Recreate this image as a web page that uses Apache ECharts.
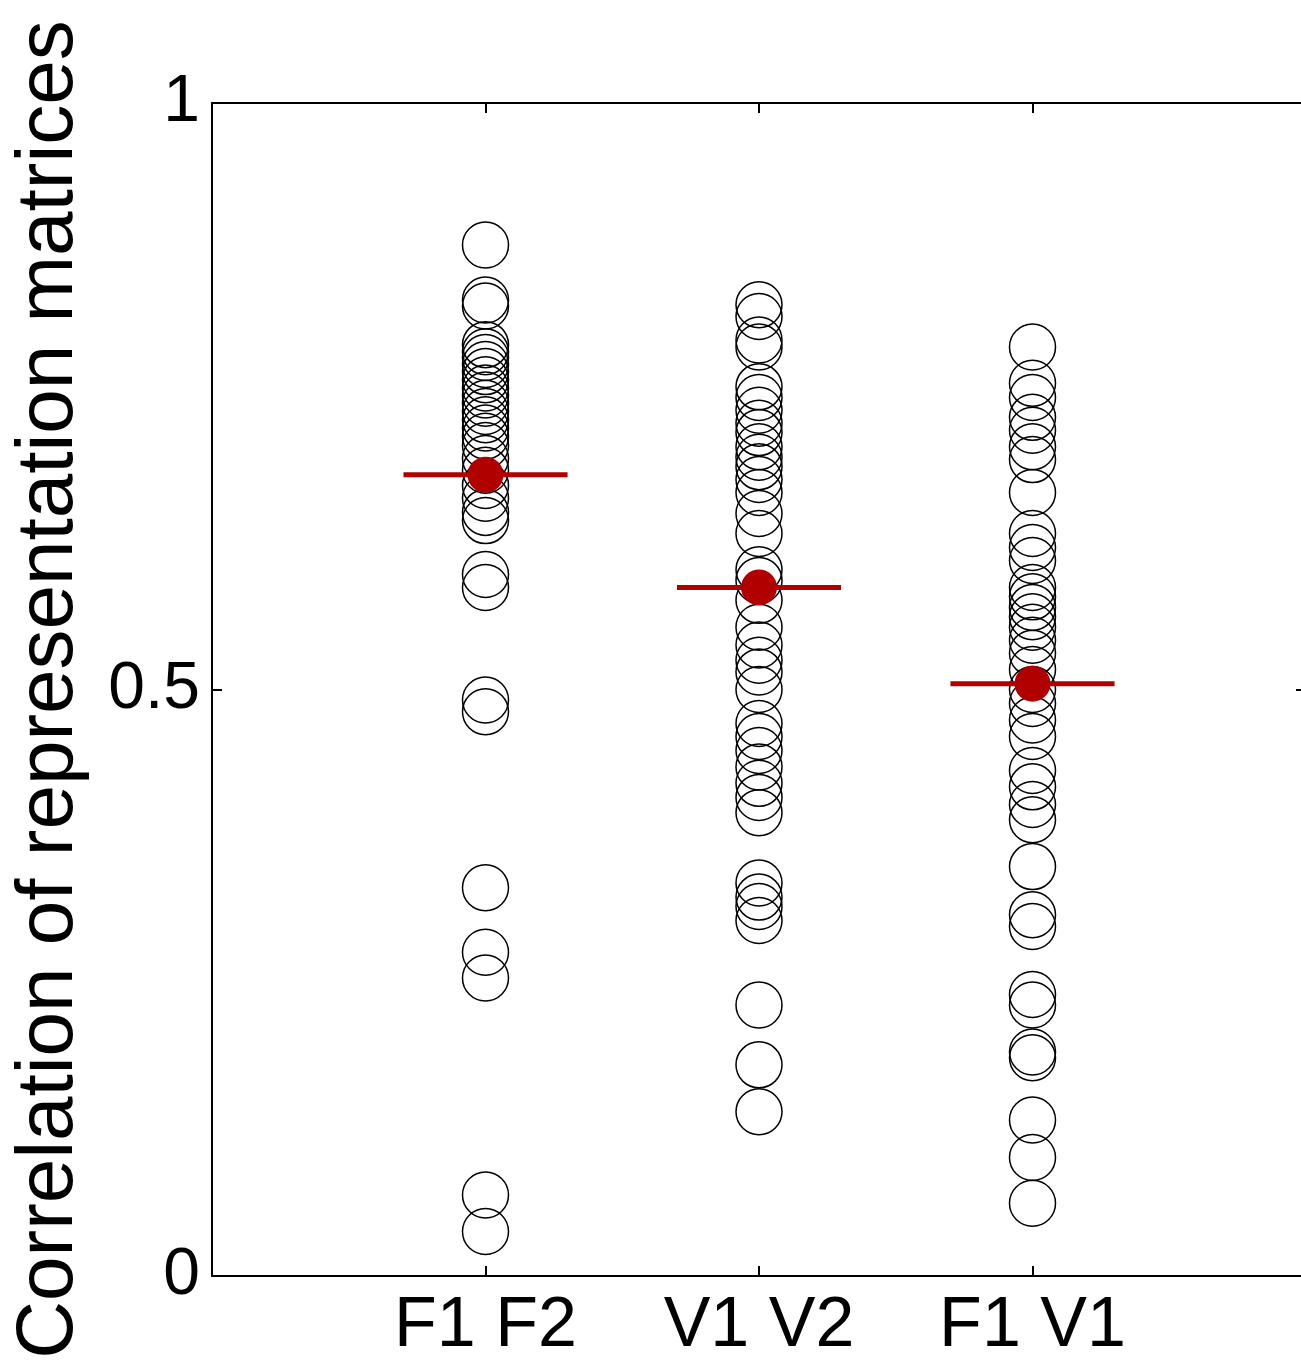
<!DOCTYPE html>
<html>
<head>
<meta charset="utf-8">
<script src="https://cdn.jsdelivr.net/npm/echarts@6/dist/echarts.min.js"></script>
<style>
html,body{margin:0;padding:0;background:#fff;}
#chart{width:1301px;height:1369px;}
</style>
</head>
<body>
<div id="chart"></div>
<script>
const categories = ['F1 F2', 'V1 V2', 'F1 V1'];
const f1f2Values = [0.879, 0.832, 0.827, 0.794, 0.788, 0.783, 0.777, 0.771, 0.764, 0.757, 0.751, 0.744, 0.737, 0.730, 0.723, 0.716, 0.708, 0.697, 0.687, 0.674, 0.663, 0.651, 0.644, 0.598, 0.587, 0.491, 0.481, 0.331, 0.276, 0.254, 0.069, 0.038];
const v1v2Values = [0.828, 0.818, 0.798, 0.792, 0.758, 0.749, 0.738, 0.727, 0.719, 0.707, 0.698, 0.690, 0.679, 0.668, 0.650, 0.633, 0.602, 0.593, 0.576, 0.553, 0.538, 0.525, 0.515, 0.500, 0.471, 0.460, 0.448, 0.434, 0.420, 0.408, 0.395, 0.335, 0.323, 0.315, 0.303, 0.231, 0.180, 0.140];
const f1v1Values = [0.792, 0.761, 0.749, 0.732, 0.721, 0.707, 0.696, 0.668, 0.633, 0.621, 0.610, 0.587, 0.579, 0.570, 0.562, 0.553, 0.542, 0.531, 0.517, 0.500, 0.488, 0.474, 0.460, 0.431, 0.417, 0.402, 0.389, 0.349, 0.308, 0.298, 0.240, 0.231, 0.191, 0.186, 0.133, 0.101, 0.062];
const meanValues = [0.683, 0.587, 0.505];
const yTicks = [0, 0.5, 1];

const groups = [f1f2Values, v1v2Values, f1v1Values];
const HALF = 0.3;
const RED = '#b00000';
const FONT = '"Liberation Sans", Arial, Helvetica, sans-serif';

const series = [];
groups.forEach((vals, i) => {
  series.push({
    type: 'scatter',
    symbol: 'circle',
    symbolSize: 46,
    itemStyle: { color: 'rgba(0,0,0,0)', borderColor: '#000', borderWidth: 1.5, opacity: 1 },
    data: vals.map(v => [i + 1, v]),
    z: 2
  });
});
meanValues.forEach((m, i) => {
  series.push({
    type: 'line',
    symbol: 'none',
    lineStyle: { color: RED, width: 5, opacity: 1 },
    data: [[i + 1 - HALF, m], [i + 1 + HALF, m]],
    z: 3
  });
});
series.push({
  type: 'scatter',
  symbol: 'circle',
  symbolSize: 36,
  itemStyle: { color: RED, opacity: 1 },
  data: meanValues.map((m, i) => [i + 1, m]),
  z: 4
});

const xLabel = v => (v >= 1 && v <= categories.length && Number.isInteger(v)) ? categories[v - 1] : '';
const tick = { show: true, inside: true, length: 10, lineStyle: { color: '#000', width: 2 } };
const line = { show: true, onZero: false, lineStyle: { color: '#000', width: 2 } };
const chart = echarts.init(document.getElementById('chart'));
chart.setOption({
  animation: false,
  backgroundColor: '#fff',
  grid: { left: 212, top: 103, width: 1094, height: 1173, containLabel: false, outerBoundsMode: 'none' },
  xAxis: [{
    type: 'value', min: 0, max: 4, interval: 1, position: 'bottom',
    axisLine: line, axisTick: tick,
    axisLabel: { formatter: xLabel, color: '#000', fontSize: 70, fontFamily: FONT, margin: 16 },
    splitLine: { show: false }
  }, {
    type: 'value', min: 0, max: 4, interval: 1, position: 'top',
    axisLine: line, axisTick: tick,
    axisLabel: { show: false },
    splitLine: { show: false }
  }],
  yAxis: [{
    type: 'value', min: 0, max: 1, interval: 0.5, position: 'left',
    name: 'Correlation of representation matrices',
    nameLocation: 'middle', nameRotate: 90, nameGap: 122,
    nameTextStyle: { color: '#000', fontSize: 80, fontFamily: FONT },
    axisLine: line, axisTick: tick,
    axisLabel: { formatter: v => yTicks.includes(v) ? String(v) : '', color: '#000', fontSize: 66, fontFamily: FONT, margin: 12 },
    splitLine: { show: false }
  }, {
    type: 'value', min: 0, max: 1, interval: 0.5, position: 'right',
    axisLine: line, axisTick: tick,
    axisLabel: { show: false },
    splitLine: { show: false }
  }],
  series: series
});
</script>
</body>
</html>
